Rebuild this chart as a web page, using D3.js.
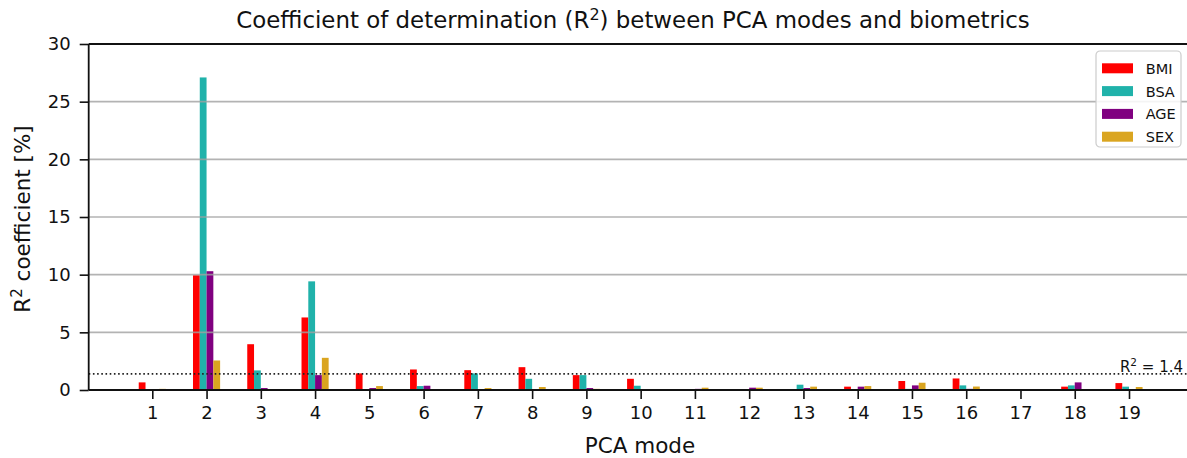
<!DOCTYPE html>
<html lang="en">
<head>
<meta charset="utf-8">
<script src="https://d3js.org/d3.v7.min.js"></script>
<style type="text/css">
body {
	margin: 0;
	background: white;
	font-family: "DejaVu Sans", sans-serif;
}
svg text {
	fill: #111;
}
</style>
</head>
<body>
<script type="text/javascript">

// PCA modes and the R^2 values (in %) for each biometric
var modes = [1, 2, 3, 4, 5, 6, 7, 8, 9, 10, 11, 12, 13, 14, 15, 16, 17, 18, 19];
var seriesNames = ["BMI", "BSA", "AGE", "SEX"];
var bmiValues = [0.66, 9.95, 3.97, 6.29, 1.44, 1.78, 1.72, 1.98, 1.29, 0.97, 0.05, 0.05, 0.05, 0.29, 0.78, 1.0, 0.03, 0.29, 0.6];
var bsaValues = [0.08, 27.1, 1.7, 9.42, 0.03, 0.34, 1.44, 0.97, 1.29, 0.37, 0.05, 0.05, 0.46, 0.03, 0.1, 0.4, 0.03, 0.4, 0.29];
var ageValues = [0.02, 10.3, 0.17, 1.29, 0.17, 0.37, 0.03, 0.03, 0.17, 0.05, 0.1, 0.2, 0.17, 0.29, 0.4, 0.1, 0.03, 0.66, 0.03];
var sexValues = [0.1, 2.56, 0.08, 2.79, 0.34, 0.05, 0.17, 0.26, 0.1, 0.05, 0.2, 0.2, 0.29, 0.34, 0.63, 0.3, 0.05, 0.05, 0.26];
var yTicks = [0, 5, 10, 15, 20, 25, 30];
var threshold = 1.4;

var colors = ["#ff0000", "#20b2aa", "#800080", "#daa520"];
var allValues = [bmiValues, bsaValues, ageValues, sexValues];

var width = 1187;
var height = 458;
var plotLeft = 88.7, plotRight = 1192.6, plotTop = 44, plotBottom = 390;
var barW = 0.125;

var svg = d3.select("body")
	.append("svg")
	.attr("width", width)
	.attr("height", height);

var x = d3.scaleLinear()
	.domain([1 - 1.172, 19 + 1.172])
	.range([plotLeft, plotRight]);

var y = d3.scaleLinear()
	.domain([0, 30])
	.range([plotBottom, plotTop]);

// bars
allValues.forEach(function(vals, s) {
	svg.append("g")
		.selectAll("rect")
		.data(vals)
		.enter()
		.append("rect")
		.attr("x", function(d, i) { return x(modes[i] + (s - 2) * barW); })
		.attr("width", function() { return x(barW) - x(0); })
		.attr("y", function(d) { return y(d); })
		.attr("height", function(d) { return y(0) - y(d); })
		.style("fill", colors[s]);
});

// horizontal grid (drawn over the bars like the original)
svg.append("g")
	.selectAll("line")
	.data(yTicks.filter(function(t) { return t > 0 && t < 30; }))
	.enter()
	.append("line")
	.attr("x1", plotLeft)
	.attr("x2", width)
	.attr("y1", function(d) { return y(d); })
	.attr("y2", function(d) { return y(d); })
	.style("stroke", "#a0a0a0")
	.style("stroke-opacity", 0.8)
	.style("stroke-width", 1.6);

// threshold line
svg.append("line")
	.attr("x1", plotLeft)
	.attr("x2", width)
	.attr("y1", y(threshold))
	.attr("y2", y(threshold))
	.style("stroke", "#222")
	.style("stroke-width", 1.6)
	.style("stroke-dasharray", "1.6,2.6");

var thr = svg.append("text")
	.attr("x", 1183)
	.attr("y", y(threshold) - 2)
	.attr("text-anchor", "end")
	.style("font-size", "15px");
thr.append("tspan").text("R");
thr.append("tspan").attr("dy", -6).style("font-size", "10.5px").text("2");
thr.append("tspan").attr("dy", 6).text(" = " + threshold);

// axes
var yAxis = d3.axisLeft(y).tickValues(yTicks).tickSize(9).tickPadding(9);
var gy = svg.append("g")
	.attr("transform", "translate(" + plotLeft + ",0)")
	.call(yAxis);

var xAxis = d3.axisBottom(x).tickValues(modes).tickSize(9).tickPadding(7);
var gx = svg.append("g")
	.attr("transform", "translate(0," + plotBottom + ")")
	.call(xAxis);

[gy, gx].forEach(function(g) {
	g.select(".domain").remove();
	g.selectAll("line").style("stroke", "#111").style("stroke-width", 1.6);
	g.selectAll("text").style("font-size", "18px").style("font-family", "DejaVu Sans").style("fill", "#111");
});

// spines
svg.append("line").attr("x1", plotLeft).attr("x2", plotLeft).attr("y1", plotTop).attr("y2", plotBottom)
	.style("stroke", "#111").style("stroke-width", 1.8);
svg.append("line").attr("x1", plotLeft).attr("x2", width).attr("y1", plotBottom).attr("y2", plotBottom)
	.style("stroke", "#111").style("stroke-width", 1.8);
svg.append("line").attr("x1", plotLeft).attr("x2", width).attr("y1", plotTop).attr("y2", plotTop)
	.style("stroke", "#111").style("stroke-width", 1.8);

// title and labels
var title = svg.append("text")
	.attr("x", 633)
	.attr("y", 28)
	.attr("text-anchor", "middle")
	.style("font-size", "22.9px");
title.append("tspan").text("Coefficient of determination (R");
title.append("tspan").attr("dy", -8).style("font-size", "16px").text("2");
title.append("tspan").attr("dy", 8).text(") between PCA modes and biometrics");

svg.append("text")
	.attr("x", 640)
	.attr("y", 453)
	.attr("text-anchor", "middle")
	.style("font-size", "21.5px")
	.text("PCA mode");

var ylab = svg.append("text")
	.attr("transform", "translate(30," + 219 + ") rotate(-90)")
	.attr("text-anchor", "middle")
	.style("font-size", "21.5px");
ylab.append("tspan").text("R");
ylab.append("tspan").attr("dy", -8).style("font-size", "15px").text("2");
ylab.append("tspan").attr("dy", 8).text(" coefficient [%]");

// legend
var legend = svg.append("g").attr("transform", "translate(1096,51)");
legend.append("rect")
	.attr("width", 85)
	.attr("height", 96)
	.attr("rx", 4)
	.style("fill", "white")
	.style("fill-opacity", 0.85)
	.style("stroke", "#cccccc")
	.style("stroke-width", 1.2);

var items = legend.selectAll("g.item")
	.data(seriesNames)
	.enter()
	.append("g")
	.attr("class", "item")
	.attr("transform", function(d, i) { return "translate(0," + (12.3 + i * 22.8) + ")"; });

items.append("rect")
	.attr("x", 6)
	.attr("width", 31)
	.attr("height", 10)
	.style("fill", function(d, i) { return colors[i]; });

items.append("text")
	.attr("x", 49.7)
	.attr("y", 10.5)
	.style("font-size", "14.5px")
	.text(function(d) { return d; });

</script>
</body>
</html>
